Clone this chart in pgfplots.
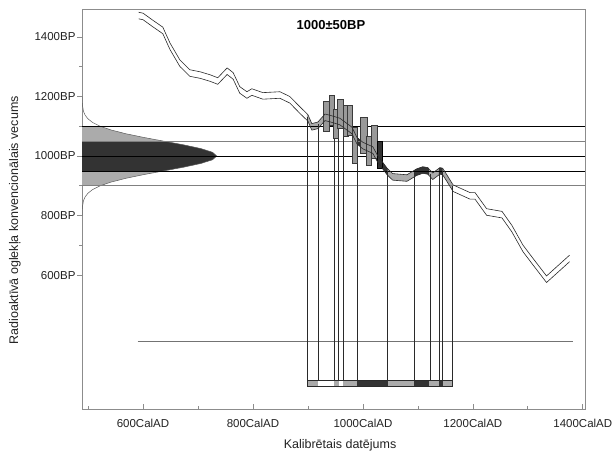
\documentclass[border=0pt]{standalone}
\usepackage{pgfplots}
\pgfplotsset{compat=1.18}
\usepgfplotslibrary{fillbetween}
\usepackage{fontspec}
\setmainfont{Liberation Sans}
\definecolor{framec}{HTML}{8C8C8C}
\definecolor{labelc}{HTML}{222222}
\definecolor{curvec}{HTML}{2A2A2A}
\definecolor{darkc}{HTML}{333333}
\definecolor{lightc}{HTML}{ABABAB}
\definecolor{rectc}{HTML}{999999}
\definecolor{rectd}{HTML}{3A3A3A}
\begin{document}
\begin{tikzpicture}
\begin{axis}[
  at={(0,0)}, anchor=south west, scale only axis,
  width=503pt, height=400pt,
  xmin=489, xmax=1404, ymin=150, ymax=1494,
  xtick={600,800,1000,1200,1400},
  xticklabels={600CalAD,800CalAD,1000CalAD,1200CalAD,1400CalAD},
  minor xtick={500,700,900,1100,1300},
  ytick={600,800,1000,1200,1400},
  yticklabels={600BP,800BP,1000BP,1200BP,1400BP},
  minor ytick={700,900,1100,1300},
  xtick pos=bottom, ytick pos=left,
  major tick length=5pt, minor tick length=3pt,
  every major y tick/.append style={xshift=-5pt},
  every minor y tick/.append style={xshift=-3pt},
  axis line style={draw=framec, line width=0.7pt},
  tick style={draw=framec, line width=0.7pt},
  tick label style={font=\fontsize{11.5}{13}\selectfont, text=labelc},
  x tick label style={yshift=-7pt},
  y tick label style={xshift=-3pt},
  xlabel={Kalibrētais datējums},
  ylabel={Radioaktīvā oglekļa konvencionālais vecums},
  every axis x label/.style={at={(axis description cs:0.513,-0.09)}, anchor=center, font=\fontsize{12.5}{14}\selectfont, text=labelc},
  every axis y label/.style={at={(axis description cs:-0.1332,0.472)}, rotate=90, anchor=center, font=\fontsize{12.5}{14}\selectfont, text=labelc},
  title={1000±50BP},
  every axis title shift=0pt,
  title style={at={(axis description cs:0.495,0.96)}, anchor=center, font=\bfseries\fontsize{13}{15}\selectfont, text=black},
]
% Gaussian: 2 sigma (light)
\addplot[fill=lightc, draw=none] coordinates {
 (489,1100)(522.1,1100)(542.0,1087.5)(568.5,1075)(601.2,1062.5)(637.6,1050)(673.9,1037.5)(705.2,1025)(726.5,1012.5)(734,1000)
 (726.5,987.5)(705.2,975)(673.9,962.5)(637.6,950)(601.2,937.5)(568.5,925)(542.0,912.5)(522.1,900)(489,900)} -- cycle;
% Gaussian: 1 sigma (dark)
\addplot[fill=darkc, draw=none] coordinates {
 (489,1050)(637.6,1050)(673.9,1037.5)(705.2,1025)(726.5,1012.5)(734,1000)
 (726.5,987.5)(705.2,975)(673.9,962.5)(637.6,950)(489,950)} -- cycle;
% Gaussian outline
\addplot[draw=darkc!80, line width=0.5pt] coordinates {
 (489.1,1200)(489.5,1175)(491.7,1150)(494.6,1137.5)(499.8,1125)(508.5,1112.5)(522.1,1100)(542.0,1087.5)(568.5,1075)(601.2,1062.5)(637.6,1050)(673.9,1037.5)(705.2,1025)(726.5,1012.5)(734,1000)
 (726.5,987.5)(705.2,975)(673.9,962.5)(637.6,950)(601.2,937.5)(568.5,925)(542.0,912.5)(522.1,900)(508.5,887.5)(499.8,875)(494.6,862.5)(491.7,850)(489.5,825)(489.1,800)};
% calibration curve (paths for fills)
\addplot[draw=none, name path=up] coordinates {
 (592,1483)(600,1480)(618,1456)(636,1433)(649,1380)(667,1323)(685,1290)(704,1283)(722,1273)(736,1263)(753,1296)(764,1280)(776,1233)(789,1216)(798,1226)(818,1213)(849,1216)(867,1200)(885,1166)(900,1139)(907,1109)(918,1114)(931,1141)(940,1137)(958,1127)(980,1097)(989,1063)(1000,1046)(1018,1031)(1027,1001)(1044,959)(1054,941)(1080,937)(1098,957)(1109,964)(1118,961)(1127,943)(1140,961)(1145,959)(1153,936)(1164,903)(1195,877)(1204,877)(1225,823)(1253,814)(1271,767)(1291,701)(1309,657)(1334,597)(1376,667)};
\addplot[draw=none, name path=lo] coordinates {
 (592,1461)(600,1458)(618,1434)(636,1411)(649,1358)(667,1301)(685,1268)(704,1261)(722,1251)(736,1241)(753,1274)(764,1258)(776,1211)(789,1194)(798,1204)(818,1191)(849,1194)(867,1178)(885,1144)(900,1117)(907,1087)(918,1092)(931,1119)(940,1115)(958,1105)(980,1075)(989,1041)(1000,1024)(1018,1009)(1027,979)(1044,937)(1054,919)(1080,915)(1098,935)(1109,942)(1118,939)(1127,921)(1140,939)(1145,937)(1153,914)(1164,881)(1195,855)(1204,855)(1225,801)(1253,792)(1271,745)(1291,679)(1309,635)(1334,575)(1376,645)};
\addplot[lightc] fill between[of=up and lo, soft clip={domain=898:1162}];
\addplot[darkc] fill between[of=up and lo, soft clip={domain=989:1045}];
\addplot[darkc] fill between[of=up and lo, soft clip={domain=1093:1120}];
\addplot[darkc] fill between[of=up and lo, soft clip={domain=1138:1145}];
% horizontal lines
\addplot[black, line width=0.8pt] coordinates {(489,1100)(1404,1100)};
\addplot[gray, line width=0.6pt] coordinates {(489,1050)(1404,1050)};
\addplot[black, line width=0.6pt] coordinates {(489,1000)(1404,1000)};
\addplot[black, line width=0.8pt] coordinates {(489,950)(1404,950)};
\addplot[gray, line width=0.6pt] coordinates {(489,900)(1404,900)};
\addplot[gray!90!black, line width=0.6pt] coordinates {(590,378)(1382,378)};
% vertical range lines
\addplot[curvec, line width=0.55pt] coordinates {(898,248)(898,1130)};
\addplot[curvec, line width=0.55pt] coordinates {(918,248)(918,1108)};
\addplot[curvec, line width=0.55pt] coordinates {(947,248)(947,1125)};
\addplot[curvec, line width=0.55pt] coordinates {(956,248)(956,1120)};
\addplot[curvec, line width=0.55pt] coordinates {(964,248)(964,1115)};
\addplot[curvec, line width=0.55pt] coordinates {(989,248)(989,1060)};
\addplot[curvec, line width=0.55pt] coordinates {(1045,248)(1045,948)};
\addplot[curvec, line width=0.55pt] coordinates {(1093,248)(1093,942)};
\addplot[curvec, line width=0.55pt] coordinates {(1122,248)(1122,938)};
\addplot[curvec, line width=0.55pt] coordinates {(1138,248)(1138,946)};
\addplot[curvec, line width=0.55pt] coordinates {(1145,248)(1145,948)};
\addplot[curvec, line width=0.55pt] coordinates {(1162,248)(1162,900)};
% calibration data boxes
\addplot[fill=rectc, draw=rectd, line width=0.5pt] coordinates {(928,1082)(938,1082)(938,1185)(928,1185)} -- cycle;
\addplot[fill=rectc, draw=rectd, line width=0.5pt] coordinates {(938,1104)(948,1104)(948,1205)(938,1205)} -- cycle;
\addplot[fill=rectc, draw=rectd, line width=0.5pt] coordinates {(946,1060)(955,1060)(955,1158)(946,1158)} -- cycle;
\addplot[fill=rectc, draw=rectd, line width=0.5pt] coordinates {(954,1094)(964,1094)(964,1192)(954,1192)} -- cycle;
\addplot[fill=rectc, draw=rectd, line width=0.5pt] coordinates {(964,1065)(973,1065)(973,1169)(964,1169)} -- cycle;
\addplot[fill=rectc, draw=rectd, line width=0.5pt] coordinates {(972,1071)(981,1071)(981,1171)(972,1171)} -- cycle;
\addplot[fill=rectc, draw=rectd, line width=0.5pt] coordinates {(980,975)(989,975)(989,1095)(980,1095)} -- cycle;
\addplot[fill=rectc, draw=rectd, line width=0.5pt] coordinates {(996,1009)(1007,1009)(1007,1130)(996,1130)} -- cycle;
\addplot[fill=rectc, draw=rectd, line width=0.5pt] coordinates {(1006,970)(1015,970)(1015,1068)(1006,1068)} -- cycle;
\addplot[fill=rectc, draw=rectd, line width=0.5pt] coordinates {(1016,992)(1026,992)(1026,1104)(1016,1104)} -- cycle;
\addplot[fill=darkc, draw=black, line width=0.5pt] coordinates {(1026,959)(1036,959)(1036,1048)(1026,1048)} -- cycle;
% calibration curve lines
\addplot[curvec, line width=0.6pt] coordinates {
 (592,1483)(600,1480)(618,1456)(636,1433)(649,1380)(667,1323)(685,1290)(704,1283)(722,1273)(736,1263)(753,1296)(764,1280)(776,1233)(789,1216)(798,1226)(818,1213)(849,1216)(867,1200)(885,1166)(900,1139)(907,1109)(918,1114)(931,1141)(940,1137)(958,1127)(980,1097)(989,1063)(1000,1046)(1018,1031)(1027,1001)(1044,959)(1054,941)(1080,937)(1098,957)(1109,964)(1118,961)(1127,943)(1140,961)(1145,959)(1153,936)(1164,903)(1195,877)(1204,877)(1225,823)(1253,814)(1271,767)(1291,701)(1309,657)(1334,597)(1376,667)};
\addplot[curvec, line width=0.6pt] coordinates {
 (592,1461)(600,1458)(618,1434)(636,1411)(649,1358)(667,1301)(685,1268)(704,1261)(722,1251)(736,1241)(753,1274)(764,1258)(776,1211)(789,1194)(798,1204)(818,1191)(849,1194)(867,1178)(885,1144)(900,1117)(907,1087)(918,1092)(931,1119)(940,1115)(958,1105)(980,1075)(989,1041)(1000,1024)(1018,1009)(1027,979)(1044,937)(1054,919)(1080,915)(1098,935)(1109,942)(1118,939)(1127,921)(1140,939)(1145,937)(1153,914)(1164,881)(1195,855)(1204,855)(1225,801)(1253,792)(1271,745)(1291,679)(1309,635)(1334,575)(1376,645)};
% bottom range bar
\addplot[fill=lightc, draw=none] coordinates {(898,225)(918,225)(918,248)(898,248)} -- cycle;
\addplot[fill=white, draw=none] coordinates {(918,225)(947,225)(947,248)(918,248)} -- cycle;
\addplot[fill=lightc, draw=none] coordinates {(947,225)(956,225)(956,248)(947,248)} -- cycle;
\addplot[fill=white, draw=none] coordinates {(956,225)(964,225)(964,248)(956,248)} -- cycle;
\addplot[fill=lightc, draw=none] coordinates {(964,225)(989,225)(989,248)(964,248)} -- cycle;
\addplot[fill=darkc, draw=none] coordinates {(989,225)(1045,225)(1045,248)(989,248)} -- cycle;
\addplot[fill=lightc, draw=none] coordinates {(1045,225)(1093,225)(1093,248)(1045,248)} -- cycle;
\addplot[fill=darkc, draw=none] coordinates {(1093,225)(1120,225)(1120,248)(1093,248)} -- cycle;
\addplot[fill=lightc, draw=none] coordinates {(1120,225)(1138,225)(1138,248)(1120,248)} -- cycle;
\addplot[fill=darkc, draw=none] coordinates {(1138,225)(1145,225)(1145,248)(1138,248)} -- cycle;
\addplot[fill=lightc, draw=none] coordinates {(1145,225)(1162,225)(1162,248)(1145,248)} -- cycle;
\addplot[draw=curvec, line width=0.5pt] coordinates {(898,225)(1162,225)(1162,248)(898,248)} -- cycle;
\end{axis}
\pgfresetboundingbox
\useasboundingbox (-82pt,-44pt) rectangle (533pt,409pt);
\end{tikzpicture}
\end{document}
